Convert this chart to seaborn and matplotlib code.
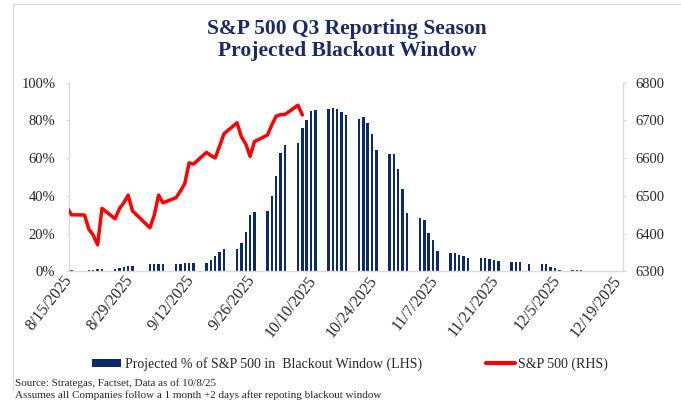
import datetime as dt
import matplotlib
matplotlib.use("Agg")
import matplotlib.pyplot as plt
import matplotlib.transforms as mtransforms
from matplotlib.patches import Patch
from matplotlib.lines import Line2D
import numpy as np
import pandas as pd
import seaborn as sns

# ---- data ----
start = dt.date(2025, 8, 15)

# trading days with a bar (9/1 Labor Day and 11/27 Thanksgiving skipped)
bar_dates = [
    "8/15",
    "8/18", "8/19", "8/20", "8/21", "8/22",
    "8/25", "8/26", "8/27", "8/28", "8/29",
    "9/2", "9/3", "9/4", "9/5",
    "9/8", "9/9", "9/10", "9/11", "9/12",
    "9/15", "9/16", "9/17", "9/18", "9/19",
    "9/22", "9/23", "9/24", "9/25", "9/26",
    "9/29", "9/30", "10/1", "10/2", "10/3",
    "10/6", "10/7", "10/8", "10/9", "10/10",
    "10/13", "10/14", "10/15", "10/16", "10/17",
    "10/20", "10/21", "10/22", "10/23", "10/24",
    "10/27", "10/28", "10/29", "10/30", "10/31",
    "11/3", "11/4", "11/5", "11/6", "11/7",
    "11/10", "11/11", "11/12", "11/13", "11/14",
    "11/17", "11/18", "11/19", "11/20", "11/21",
    "11/24", "11/25", "11/26", "11/28",
    "12/1", "12/2", "12/3", "12/4", "12/5",
    "12/8", "12/9", "12/10", "12/11", "12/12",
]
blackout_pct = [
    0.5,
    0.3, 0.5, 0.7, 1.2, 1.3,
    1.3, 1.9, 2.5, 2.7, 2.7,
    3.8, 3.9, 3.9, 3.9,
    4.0, 4.1, 4.2, 4.4, 4.5,
    4.6, 5.8, 8.0, 10.0, 11.8,
    11.7, 15.2, 20.9, 29.9, 31.7,
    32.0, 39.8, 50.5, 62.9, 66.8,
    67.9, 75.9, 80.4, 85.0, 85.6,
    86.3, 86.8, 86.2, 84.5, 82.7,
    81.0, 81.6, 78.7, 72.9, 64.2,
    62.2, 62.2, 54.3, 43.5, 30.7,
    28.3, 27.4, 20.4, 16.6, 10.7,
    9.9, 9.6, 8.8, 8.2, 7.3,
    7.3, 7.1, 6.6, 5.9, 5.2,
    5.1, 5.1, 4.7, 4.0,
    4.0, 3.8, 2.2, 1.5, 0.6,
    0.6, 0.6, 0.6, 0.3, 0.0,
]

spx_dates = [
    "8/14", "8/15",
    "8/18", "8/19", "8/20", "8/21", "8/22",
    "8/25", "8/26", "8/27", "8/28", "8/29",
    "9/2", "9/3", "9/4", "9/5",
    "9/8", "9/9", "9/10", "9/11", "9/12",
    "9/15", "9/16", "9/17", "9/18", "9/19",
    "9/22", "9/23", "9/24", "9/25", "9/26",
    "9/29", "9/30", "10/1", "10/2", "10/3",
    "10/6", "10/7",
]
spx_close = [
    6468.5, 6449.8,
    6449.2, 6411.4, 6395.8, 6370.2, 6466.9,
    6439.3, 6465.9, 6481.4, 6501.9, 6460.3,
    6415.5, 6448.3, 6502.1, 6481.5,
    6495.2, 6512.6, 6532.0, 6587.5, 6584.3,
    6615.3, 6606.8, 6600.4, 6632.0, 6664.4,
    6693.8, 6656.9, 6638.0, 6604.7, 6643.7,
    6661.2, 6688.5, 6711.2, 6715.4, 6715.8,
    6740.3, 6714.6,
]

tick_every = 14
n_ticks = 10
left_ticks = [0, 20, 40, 60, 80, 100]
right_ticks = [6300, 6400, 6500, 6600, 6700, 6800]

title_lines = ["S&P 500 Q3 Reporting Season", "Projected Blackout Window"]
legend_labels = ["Projected % of S&P 500 in  Blackout Window (LHS)", "S&P 500 (RHS)"]
notes = ["Source: Strategas, Factset, Data as of 10/8/25",
         "Assumes all Companies follow a 1 month +2 days after repoting blackout window"]


def day_slot(md):
    # Excel date axis: each day is a slot, mark sits in the middle of it
    m, d = md.split("/")
    return (dt.date(2025, int(m), int(d)) - start).days + 0.5


bars = pd.DataFrame({"x": [day_slot(s) for s in bar_dates], "pct": blackout_pct})
spx = pd.DataFrame({"x": [day_slot(s) for s in spx_dates], "close": spx_close})

navy = "#0C2A6A"
red = "#FF0000"
grid_grey = "#D9D9D9"
text_col = "#262626"

sns.set_style("white")
plt.rcParams["font.family"] = ["Liberation Serif", "DejaVu Serif"]

fig = plt.figure(figsize=(6.81, 4.01), dpi=100)
ax = fig.add_axes([69.3 / 681, 1 - 271.3 / 401, (622.5 - 69.3) / 681, (271.3 - 82.7) / 401])
ax2 = ax.twinx()

sns.barplot(data=bars, x="x", y="pct", native_scale=True, width=0.55,
            color=navy, saturation=1, linewidth=0, errorbar=None, ax=ax)
sns.lineplot(data=spx, x="x", y="close", color=red, linewidth=2.5, ax=ax2, legend=False)

ax.set_xlim(0, tick_every * (n_ticks - 1) + 1)
ax.set_ylim(0, 100)
ax2.set_ylim(6300, 6800)

tick_pos = [i * tick_every for i in range(n_ticks)]
tick_lab = []
for p in tick_pos:
    d = start + dt.timedelta(days=p)
    tick_lab.append(f"{d.month}/{d.day}/{d.year}")
ax.set_xticks(tick_pos)
ax.set_xticklabels(tick_lab, rotation=52, ha="right", va="center", rotation_mode="anchor",
                   fontsize=11.5)
shift = mtransforms.ScaledTranslation(5 / 100, -5 / 100, fig.dpi_scale_trans)
for lab in ax.get_xticklabels():
    lab.set_transform(lab.get_transform() + shift)

ax.set_yticks(left_ticks)
ax.set_yticklabels([f"{v}%" for v in left_ticks])
ax2.set_yticks(right_ticks)
ax.set_xlabel("")
ax.set_ylabel("")
ax2.set_xlabel("")
ax2.set_ylabel("")

for a in (ax, ax2):
    for sp in a.spines.values():
        sp.set_visible(False)
        sp.set_color(grid_grey)
        sp.set_linewidth(1)
ax.spines["left"].set_visible(True)
ax.spines["bottom"].set_visible(True)
ax2.spines["right"].set_visible(True)

ax.tick_params(axis="both", direction="out", length=2.5, width=0.8, color=grid_grey,
               labelcolor=text_col)
ax.tick_params(axis="y", pad=7.5, labelsize=10.5)
ax.tick_params(axis="x", pad=2)
ax2.tick_params(axis="y", direction="out", length=2.5, width=0.8, color=grid_grey,
                labelsize=10.5, labelcolor=text_col, pad=6.5)

# title
title_col = "#1B2A66"
fig.text(347 / 681, 1 - 29 / 401, title_lines[0], ha="center", va="center",
         fontsize=15.5, fontweight="bold", color=title_col)
fig.text(347 / 681, 1 - 51 / 401, title_lines[1], ha="center", va="center",
         fontsize=15.5, fontweight="bold", color=title_col)

# legend
handles = [Patch(facecolor=navy, edgecolor="none"),
           Line2D([0], [0], color=red, linewidth=3)]
fig.legend(handles, legend_labels, loc="center", bbox_to_anchor=(350 / 681, 1 - 364 / 401),
           ncol=2, frameon=False, fontsize=10, handlelength=2.1, handleheight=0.5,
           handletextpad=0.25, columnspacing=4.6, labelcolor=text_col)

# notes
fig.text(15 / 681, 1 - 383 / 401, notes[0], ha="left", va="center", fontsize=8, color=text_col)
fig.text(15 / 681, 1 - 395.5 / 401, notes[1], ha="left", va="center", fontsize=8, color=text_col)

# faint outer frame
fig.add_artist(Line2D([13 / 681, 1], [1 - 3.5 / 401] * 2, transform=fig.transFigure,
                      color=grid_grey, linewidth=1))
fig.add_artist(Line2D([13 / 681] * 2, [1 - 3.5 / 401, 1 - 390 / 401], transform=fig.transFigure,
                      color=grid_grey, linewidth=1))

fig.savefig("out.png", dpi=100)
